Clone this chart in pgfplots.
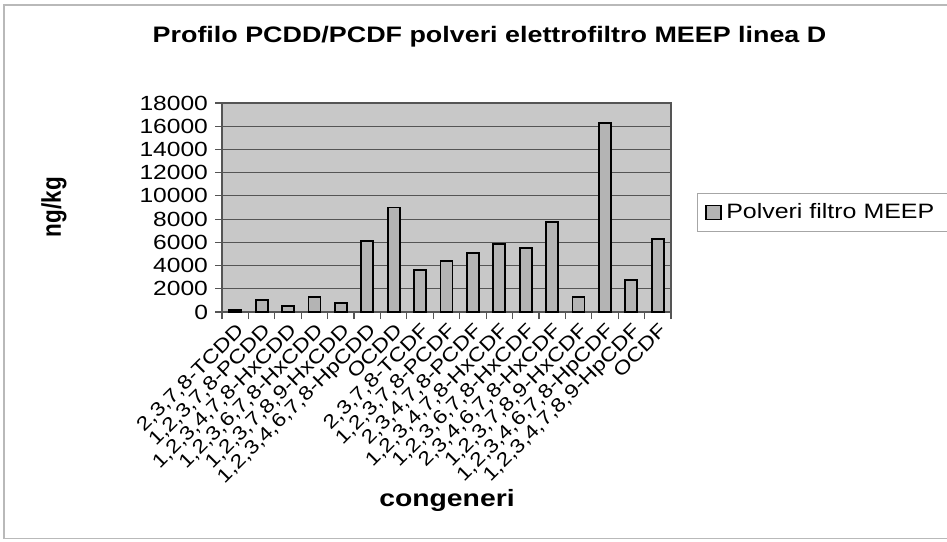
\documentclass[border=0pt]{standalone}
\usepackage{fontspec}
\setmainfont{Liberation Sans}[FakeStretch=1.2]
\newfontfamily\plainfont{Liberation Sans}
\usepackage{graphicx}
\usepackage{pgfplots}
\pgfplotsset{compat=1.18}
\definecolor{plotbg}{RGB}{200,200,200}
\definecolor{barfill}{RGB}{180,180,180}
\definecolor{gridc}{RGB}{85,85,85}
\pgfplotstableread{
x y
1 200
2 1000
3 500
4 1300
5 800
6 6100
7 9000
8 3650
9 4400
10 5050
11 5850
12 5500
13 7750
14 1300
15 16250
16 2750
17 6300
}\datatab
\begin{document}
\begin{tikzpicture}
\useasboundingbox (0,0) rectangle (473.5pt,-270.5pt);
\clip (0,0) rectangle (473.5pt,-270.5pt);
\draw[gray!55, line width=0.8pt] (2pt,-2.5pt) rectangle (490pt,-269.3pt);
\node[font=\fontsize{11.2}{13}\selectfont\bfseries] at (244.75pt,-18.5pt) {Profilo PCDD/PCDF polveri elettrofiltro MEEP linea D};
\node[rotate=90] at (27pt,-103.5pt) {\scalebox{1}[1.2]{\fontsize{11.25}{13}\selectfont\plainfont\bfseries ng/kg}};
\node[font=\fontsize{11.8}{14}\selectfont\bfseries] at (223.5pt,-250pt) {congeneri};
\begin{axis}[
  at={(111pt,-156pt)}, anchor=south west, scale only axis,
  width=224.5pt, height=104.5pt,
  ybar, bar width=6pt,
  xmin=0.5, xmax=17.5, ymin=0, ymax=18000,
  ytick={0,2000,...,18000},
  scaled y ticks=false,
  xtick={0.5,1.5,...,17.5},
  x tick label as interval,
  xtick pos=bottom, ytick pos=left,
  xticklabels={{2,3,7,8-TCDD},{1,2,3,7,8-PCDD},{1,2,3,4,7,8-HxCDD},{1,2,3,6,7,8-HxCDD},{1,2,3,7,8,9-HxCDD},{1,2,3,4,6,7,8-HpCDD},{OCDD},{2,3,7,8-TCDF},{1,2,3,7,8-PCDF},{2,3,4,7,8-PCDF},{1,2,3,4,7,8-HxCDF},{1,2,3,6,7,8-HxCDF},{2,3,4,6,7,8-HxCDF},{1,2,3,7,8,9-HxCDF},{1,2,3,4,6,7,8-HpCDF},{1,2,3,4,7,8,9-HpCDF},{OCDF}},
  xticklabel style={rotate=45, anchor=north east, inner sep=1pt, font=\fontsize{9.6}{11}\selectfont},
  yticklabel style={font=\fontsize{10.25}{12}\selectfont},
  /pgf/number format/1000 sep={},
  /pgf/number format/assume math mode=true,
  tick align=outside, major tick length=3.5pt,
  tick style={gridc, line width=0.6pt},
  axis background/.style={fill=plotbg},
  axis line style={gridc, line width=0.7pt},
  ymajorgrids, major grid style={gridc, line width=0.6pt},
  legend style={at={(1.058,0.569)}, anchor=north west, draw=gray!70, fill=white,
    font=\fontsize{10.4}{12}\selectfont, inner xsep=4pt, inner ysep=3pt},
  legend cell align=left,
  legend image code/.code={\draw[#1, draw=black] (0pt,-3.5pt) rectangle (7.5pt,3.5pt);},
]
\addplot[fill=barfill, draw=black, line width=0.9pt] table[x=x, y=y] {\datatab};
\addlegendentry{Polveri filtro MEEP\hspace*{10pt}}
\end{axis}
\end{tikzpicture}
\end{document}
